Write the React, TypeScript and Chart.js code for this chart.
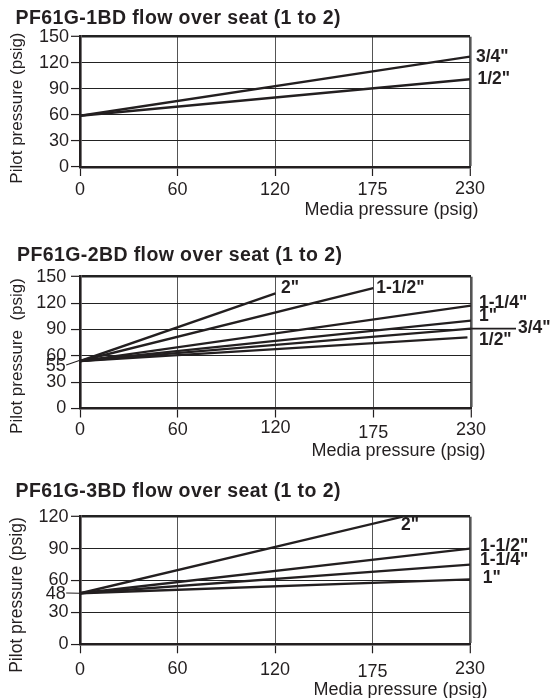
import React, { useEffect, useRef } from 'react';
import { Chart, registerables } from 'chart.js';

Chart.register(...registerables);

const FONT = '"Liberation Sans", Arial, Helvetica, sans-serif';
const INK = '#231f20';

// ---- shared x axis (equally spaced ticks) ----
const xTickValues = [0, 60, 120, 175, 230];
const xTickLabels = ['0', '60', '120', '175', '230'];

// ---- PF61G-1BD ----
const bd1Title = 'PF61G-1BD flow over seat (1 to 2)';
const bd1YTicks = [0, 30, 60, 90, 120, 150];
const bd1Sizes = ['3/4"', '1/2"'];
const bd1StartPilot = 59;
const bd1EndMedia = [230, 230];
const bd1EndPilot = [127, 101];

// ---- PF61G-2BD ----
const bd2Title = 'PF61G-2BD flow over seat (1 to 2)';
const bd2YTicks = [0, 30, 60, 90, 120, 150];
const bd2ExtraTick = 55;
const bd2Sizes = ['2"', '1-1/2"', '1-1/4"', '1"', '3/4"', '1/2"'];
const bd2StartPilot = 54;
const bd2EndMedia = [120, 175, 230, 230, 230, 228];
const bd2EndPilot = [131, 137, 117, 100, 91, 81];

// ---- PF61G-3BD ----
const bd3Title = 'PF61G-3BD flow over seat (1 to 2)';
const bd3YTicks = [0, 30, 60, 90, 120];
const bd3ExtraTick = 48;
const bd3Sizes = ['2"', '1-1/2"', '1-1/4"', '1"'];
const bd3StartPilot = 48;
const bd3EndMedia = [192, 230, 230, 230];
const bd3EndPilot = [120, 90, 75, 61];

const xTitle = 'Media pressure (psig)';

// piecewise mapping of media pressure onto the equally spaced tick positions
function mediaToPos(m: number): number {
  for (let i = 0; i < xTickValues.length - 1; i++) {
    if (m <= xTickValues[i + 1]) {
      return i + (m - xTickValues[i]) / (xTickValues[i + 1] - xTickValues[i]);
    }
  }
  return xTickValues.length - 1;
}

// ---- layout / style (not data) ----
const L1 = {
  top: 0, height: 230, areaTop: 36.7, areaBottom: 167, areaLeft: 80, areaRight: 470,
  yTickPad: 2, xTickPad: 3.2, xShift: [0, 0, 0, 0, -1],
  yTitle: 'Pilot pressure (psig)', yTitleSize: 17, yTitleDy: 6.2,
  xTitleDx: 8.5, xTitleDy: 47.7,
  labelOffsets: [[6, 0], [7.5, 0]], leaderIndex: -1, extraDy: 0,
  titleLeft: 15.5, titleTop: 5.5,
};
const L2 = {
  top: 230, height: 235, areaTop: 46.7, areaBottom: 178.5, areaLeft: 80, areaRight: 471,
  yTickPad: 4.8, xTickPad: 1.7, xShift: [0, 0, -1.5, 3, 0],
  yTitle: 'Pilot pressure  (psig)', yTitleSize: 17, yTitleDy: 13.4,
  xTitleDx: 14.5, xTitleDy: 47.8,
  labelOffsets: [[5.5, -5], [3, 0], [8, -2.5], [8, -4], [47, 0], [11.6, 2.7]], leaderIndex: 4, extraDy: 6,
  titleLeft: 17, titleTop: 242.7,
};
const L3 = {
  top: 465, height: 233, areaTop: 51.7, areaBottom: 179.3, areaLeft: 80, areaRight: 470,
  yTickPad: 2.5, xTickPad: 5.9, xShift: [0, -1, 0, 2, -1],
  yTitle: 'Pilot pressure (psig)', yTitleSize: 17.5, yTitleDy: 14.5,
  xTitleDx: 17.5, xTitleDy: 50.4,
  labelOffsets: [[-1.6, 8.3], [10, -2], [10, -4], [12.7, -1]], leaderIndex: -1, extraDy: 1,
  titleLeft: 15.5, titleTop: 479.4,
};

function makeAnnot(L: any, sizes: string[], endMedia: number[], endPilot: number[], extraTick: number | null) {
  return {
    id: 'annot',
    afterDraw(chart: any) {
      const { ctx, chartArea, scales } = chart;
      const xs = scales.x;
      const ys = scales.y;
      ctx.save();
      ctx.fillStyle = INK;
      ctx.strokeStyle = INK;

      // size labels at line ends
      ctx.font = `bold 17.5px ${FONT}`;
      ctx.textAlign = 'left';
      ctx.textBaseline = 'middle';
      sizes.forEach((s, i) => {
        const px = xs.getPixelForValue(mediaToPos(endMedia[i]));
        const py = ys.getPixelForValue(endPilot[i]);
        const [dx, dy] = L.labelOffsets[i];
        if (L.leaderIndex === i) {
          ctx.lineWidth = 1.8;
          ctx.beginPath();
          ctx.moveTo(px, py);
          ctx.lineTo(px + dx - 2, py + dy);
          ctx.stroke();
        }
        ctx.fillText(s, px + dx, py + dy);
      });

      // extra y tick with leader
      if (extraTick !== null) {
        const py = ys.getPixelForValue(extraTick);
        const rx = chartArea.left - 14.3;
        ctx.font = `18px ${FONT}`;
        ctx.textAlign = 'right';
        ctx.textBaseline = 'middle';
        ctx.fillText(String(extraTick), rx, py + L.extraDy);
        ctx.lineWidth = 1.1;
        ctx.beginPath();
        ctx.moveTo(rx + 0.5, py + L.extraDy - 1.2);
        ctx.lineTo(chartArea.left, py);
        ctx.stroke();
      }

      // x axis title
      ctx.font = `18px ${FONT}`;
      ctx.textAlign = 'right';
      ctx.textBaseline = 'alphabetic';
      ctx.fillText(xTitle, chartArea.right + L.xTitleDx, chartArea.bottom + L.xTitleDy);

      // y axis title
      ctx.translate(17, (chartArea.top + chartArea.bottom) / 2 + L.yTitleDy);
      ctx.rotate(-Math.PI / 2);
      ctx.font = `${L.yTitleSize}px ${FONT}`;
      ctx.textAlign = 'center';
      ctx.textBaseline = 'middle';
      ctx.fillText(L.yTitle, 0, 0);
      ctx.restore();
    },
  };
}

function PressureChart(props: any) {
  const { L, sizes, startPilot, endMedia, endPilot, yTicks, extraTick } = props;
  const ref = useRef<HTMLCanvasElement>(null);
  useEffect(() => {
    const yMax = yTicks[yTicks.length - 1];
    const xMax = xTickValues.length - 1;
    const datasets = sizes.map((s: string, i: number) => ({
      label: s,
      data: [
        { x: mediaToPos(0), y: startPilot },
        { x: mediaToPos(endMedia[i]), y: endPilot[i] },
      ],
      borderColor: INK,
      borderWidth: 2.3,
      pointRadius: 0,
      fill: false,
      tension: 0,
    }));
    const chart = new Chart(ref.current as HTMLCanvasElement, {
      type: 'line',
      data: { datasets },
      options: {
        animation: false,
        responsive: true,
        maintainAspectRatio: false,
        layout: { padding: { top: L.areaTop, right: 552 - L.areaRight, left: 0, bottom: 0 } },
        plugins: {
          legend: { display: false },
          tooltip: { enabled: false },
          title: { display: false },
        },
        scales: {
          x: {
            type: 'linear',
            min: 0,
            max: xMax,
            afterBuildTicks: (s: any) => {
              s.ticks = xTickValues.map((_, i) => ({ value: i }));
            },
            afterFit: (s: any) => {
              s.height = L.height - L.areaBottom;
            },
            ticks: {
              autoSkip: false,
              maxRotation: 0,
              color: INK,
              padding: L.xTickPad,
              callback: (v: any) => xTickLabels[v as number] ?? '',
              font: (c: any) => ({
                family: FONT,
                size: 18,
                lineHeight: (21.6 + 2 * (L.xShift[c.index] ?? 0)) / 18,
              }),
            },
            grid: {
              color: '#555',
              lineWidth: (c: any) => (c.tick && c.tick.value === xMax ? 2.6 : 1),
              tickLength: 9,
              tickWidth: 1.2,
              tickColor: INK,
            },
            border: { display: true, color: INK, width: 2.6 },
          },
          y: {
            type: 'linear',
            min: 0,
            max: yMax,
            afterBuildTicks: (s: any) => {
              s.ticks = yTicks.map((v: number) => ({ value: v }));
            },
            afterFit: (s: any) => {
              s.width = L.areaLeft;
            },
            ticks: {
              color: INK,
              padding: L.yTickPad,
              font: { family: FONT, size: 18 },
            },
            grid: {
              color: '#222',
              lineWidth: (c: any) => (c.tick && c.tick.value === yMax ? 2.6 : 1.1),
              tickLength: 9,
              tickWidth: 1.2,
              tickColor: INK,
            },
            border: { display: true, color: INK, width: 2.6 },
          },
        },
      } as any,
      plugins: [makeAnnot(L, sizes, endMedia, endPilot, extraTick)],
    });
    return () => chart.destroy();
  }, []);
  return (
    <div style={{ position: 'absolute', left: 0, top: L.top, width: 552, height: L.height }}>
      <canvas ref={ref} />
    </div>
  );
}

function Title({ text, left, top }: any) {
  return (
    <div
      style={{
        position: 'absolute',
        left,
        top,
        fontFamily: FONT,
        fontWeight: 'bold',
        fontSize: 19.5,
        lineHeight: '22px',
        letterSpacing: '0.4px',
        color: INK,
        whiteSpace: 'nowrap',
        zIndex: 2,
      }}
    >
      {text}
    </div>
  );
}

export default function App() {
  return (
    <div style={{ position: 'absolute', left: 0, top: 0, width: 552, height: 698, background: '#fff', overflow: 'hidden' }}>
      <PressureChart L={L1} sizes={bd1Sizes} startPilot={bd1StartPilot} endMedia={bd1EndMedia} endPilot={bd1EndPilot} yTicks={bd1YTicks} extraTick={null} />
      <PressureChart L={L2} sizes={bd2Sizes} startPilot={bd2StartPilot} endMedia={bd2EndMedia} endPilot={bd2EndPilot} yTicks={bd2YTicks} extraTick={bd2ExtraTick} />
      <PressureChart L={L3} sizes={bd3Sizes} startPilot={bd3StartPilot} endMedia={bd3EndMedia} endPilot={bd3EndPilot} yTicks={bd3YTicks} extraTick={bd3ExtraTick} />
      <Title text={bd1Title} left={L1.titleLeft} top={L1.titleTop} />
      <Title text={bd2Title} left={L2.titleLeft} top={L2.titleTop} />
      <Title text={bd3Title} left={L3.titleLeft} top={L3.titleTop} />
    </div>
  );
}
